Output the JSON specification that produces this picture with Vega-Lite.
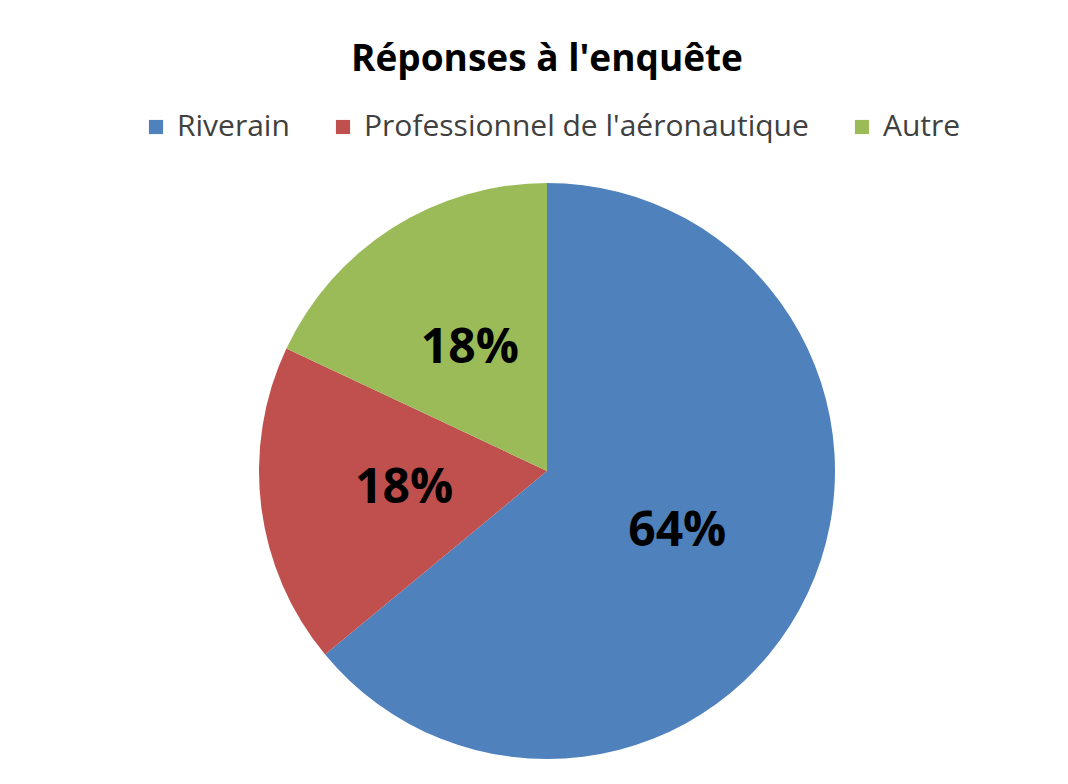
{
  "$schema": "https://vega.github.io/schema/vega-lite/v6.json",
  "autosize": "none",
  "width": 576,
  "height": 576,
  "padding": {"left": 259, "top": 183, "right": 233, "bottom": 25},
  "background": "white",
  "title": {
    "text": "Réponses à l'enquête",
    "anchor": "middle",
    "font": "Open Sans",
    "fontSize": 37,
    "fontWeight": "bold",
    "color": "#000000",
    "offset": 33
  },
  "data": {
    "values": [
      {"categorie": "Riverain", "pourcentage": 64, "ordre": 1, "etiquette": "64%"},
      {"categorie": "Professionnel de l'aéronautique", "pourcentage": 18, "ordre": 2, "etiquette": "18%"},
      {"categorie": "Autre", "pourcentage": 18, "ordre": 3, "etiquette": "18%"}
    ]
  },
  "encoding": {
    "theta": {"field": "pourcentage", "type": "quantitative", "stack": true},
    "order": {"field": "ordre", "type": "quantitative"},
    "color": {
      "field": "categorie",
      "type": "nominal",
      "sort": ["Riverain", "Professionnel de l'aéronautique", "Autre"],
      "scale": {
        "domain": ["Riverain", "Professionnel de l'aéronautique", "Autre"],
        "range": ["#4F81BD", "#C0504D", "#9BBB59"]
      },
      "legend": {
        "title": null,
        "orient": "none",
        "direction": "horizontal",
        "legendX": -118,
        "legendY": -71,
        "symbolType": "square",
        "symbolSize": 200,
        "symbolStrokeWidth": 0,
        "labelFont": "Open Sans",
        "labelFontSize": 30,
        "labelColor": "#404040",
        "labelOffset": 6,
        "labelLimit": 0,
        "columnPadding": 38
      }
    }
  },
  "layer": [
    {"mark": {"type": "arc", "outerRadius": 288, "stroke": null}},
    {
      "mark": {"type": "text", "radius": 144, "font": "Open Sans", "fontSize": 48, "fontWeight": "bold", "color": "#000000"},
      "encoding": {
        "text": {"field": "etiquette", "type": "nominal"},
        "color": {"value": "#000000"}
      }
    }
  ]
}
